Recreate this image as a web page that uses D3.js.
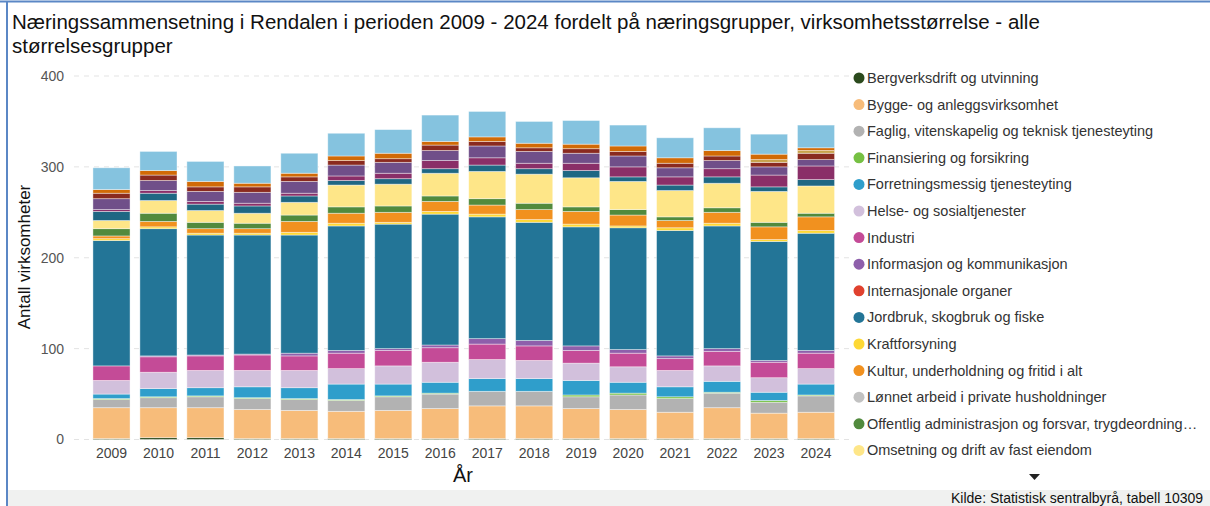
<!DOCTYPE html>
<html>
<head>
<meta charset="utf-8">
<script src="https://cdn.jsdelivr.net/npm/d3@7"></script>
<style>
body { margin: 0; background: #fff; font-family: "Liberation Sans", Arial, sans-serif; }
svg { display: block; }
</style>
</head>
<body>
<div></div>
<script>
//Dimensiones
var w = 1210
var h = 506

//Datos (antall virksomheter per år)
var years = ['2009','2010','2011','2012','2013','2014','2015','2016','2017','2018','2019','2020','2021','2022','2023','2024']

var categories = [
    'Bergverksdrift og utvinning',
    'Bygge- og anleggsvirksomhet',
    'Faglig, vitenskapelig og teknisk tjenesteyting',
    'Finansiering og forsikring',
    'Forretningsmessig tjenesteyting',
    'Helse- og sosialtjenester',
    'Industri',
    'Informasjon og kommunikasjon',
    'Internasjonale organer',
    'Jordbruk, skogbruk og fiske',
    'Kraftforsyning',
    'Kultur, underholdning og fritid i alt',
    'Lønnet arbeid i private husholdninger',
    'Offentlig administrasjon og forsvar, trygdeordninger underlagt offentlig forvaltning',
    'Omsetning og drift av fast eiendom',
    'Overnattings- og serveringsvirksomhet',
    'Personlig tjenesteyting',
    'Transport og lagring',
    'Undervisning',
    'Uoppgitt',
    'Vannforsyning, avløp og renovasjon',
    'Varehandel, reparasjon av motorvogner'
]

var colors = ['#2b4a1d','#f7bc7a','#b2b2b2','#76c043','#2f9ecb','#d2c0dc','#c44b97','#8e5fab','#e0412e','#237597','#fdd835',
    '#f1911f','#c2c2c2','#518a3d','#fee688','#1f6783','#8a2f68','#704f89','#8a2a1f','#c8a24a','#d16a06','#85c3df']

var bergverk     = [1,2,2,1,1,1,1,1,1,1,1,1,1,1,1,1]
var bygge        = [34,33,33,32,31,30,31,33,36,36,33,32,29,34,28,29]
var faglig       = [9,11,12,12,12,12,15,16,16,16,13,16,15,16,12,18]
var finans       = [1,1,1,1,1,1,1,1,0,0,2,2,2,1,2,1]
var forretning   = [5,9,9,12,12,17,13,12,14,14,16,12,11,12,9,12]
var helse        = [15,18,19,18,19,17,20,22,21,20,19,17,18,17,16,17]
var industri     = [16,17,16,17,16,17,17,16,17,16,14,15,13,16,17,17]
var informasjon  = [0,1,1,1,3,3,2,3,6,6,5,4,3,3,2,3]
var internasjonale = [0,0,0,0,0,0,0,0,0,0,0,0,0,0,0,0]
var jordbruk     = [138,140,132,131,130,137,137,144,134,130,131,134,138,135,131,129]
var kraft        = [2,2,2,2,3,3,2,3,3,3,3,2,3,3,2,3]
var kultur       = [3,6,5,5,12,11,11,11,10,11,14,12,8,12,14,15]
var lonnet       = [0,0,0,0,0,0,0,0,0,0,0,0,0,0,0,0]
var offentlig    = [8,9,7,6,7,7,7,6,7,7,5,6,4,5,5,4]
var omsetning    = [9,14,13,11,14,24,24,25,30,32,32,31,29,27,34,30]
var overnatting  = [10,8,7,8,7,5,6,5,7,6,8,5,6,7,5,7]
var personlig    = [2,3,3,3,3,5,6,9,8,6,8,11,9,9,13,15]
var transport    = [12,11,11,12,13,12,12,11,13,13,11,12,10,9,9,7]
var undervisning = [6,6,5,6,5,5,4,6,5,4,5,5,5,5,5,7]
var uoppgitt     = [0,0,0,0,0,0,0,0,0,0,0,0,0,0,3,3]
var vannforsyning = [4,5,6,4,4,5,6,4,5,5,5,6,6,6,6,3]
var varehandel   = [24,21,22,19,22,25,26,29,28,24,26,23,22,25,22,25]

var series = [bergverk,bygge,faglig,finans,forretning,helse,industri,informasjon,internasjonale,jordbruk,kraft,
    kultur,lonnet,offentlig,omsetning,overnatting,personlig,transport,undervisning,uoppgitt,vannforsyning,varehandel]

var yTicks = [0,100,200,300,400]
var legendShown = 15

//tabla para d3.stack
var table = years.map(function(y, i) {
    var row = {year: y}
    categories.forEach(function(c, j) { row[c] = series[j][i] })
    return row
})

var svg = d3.select('div')
    .append('svg')
    .attr('width', w)
    .attr('height', h)

//marco azul
svg.append('line').attr('x1', 0).attr('x2', w).attr('y1', 1.5).attr('y2', 1.5)
    .attr('stroke', '#5b87c5').attr('stroke-width', 2)
svg.append('line').attr('x1', 7).attr('x2', 7).attr('y1', 1).attr('y2', h)
    .attr('stroke', '#5b87c5').attr('stroke-width', 2)

//titulo
var title = svg.append('text')
    .attr('x', 12)
    .attr('y', 29)
    .style('font-size', '20.5px')
    .style('fill', '#111')
title.append('tspan').attr('x', 12).attr('dy', 0)
    .text('Næringssammensetning i Rendalen i perioden 2009 - 2024 fordelt på næringsgrupper, virksomhetsstørrelse - alle')
title.append('tspan').attr('x', 12).attr('dy', 24)
    .text('størrelsesgrupper')

//escalas
var x = d3.scaleBand()
    .domain(years)
    .range([88, 839.5])
    .paddingInner(0.21)
    .paddingOuter(0.105)

var y = d3.scaleLinear()
    .domain([0, 400])
    .range([439.5, 76])

//rejilla
svg.append('g')
    .selectAll('line')
    .data(yTicks)
    .enter()
    .append('line')
    .attr('x1', 74)
    .attr('x2', 853)
    .attr('y1', (d) => y(d))
    .attr('y2', (d) => y(d))
    .attr('stroke', '#e3e3e3')
    .attr('stroke-width', 1)
    .attr('stroke-dasharray', '5,5')

//eje y
var yAxis = svg.append('g')
    .attr('transform', 'translate(64,0)')
    .call(d3.axisLeft(y).tickValues(yTicks).tickSize(0).tickPadding(0))
yAxis.select('.domain').remove()
yAxis.selectAll('text')
    .style('font-family', '"Liberation Sans", Arial, sans-serif')
    .style('font-size', '14px')
    .style('fill', '#555')

svg.append('text')
    .attr('transform', 'translate(30,257) rotate(-90)')
    .attr('text-anchor', 'middle')
    .style('font-size', '17px')
    .style('fill', '#111')
    .text('Antall virksomheter')

//eje x
var xAxis = svg.append('g')
    .attr('transform', 'translate(0,440)')
    .call(d3.axisBottom(x).tickSize(0).tickPadding(8))
xAxis.select('.domain').remove()
xAxis.selectAll('text')
    .style('font-family', '"Liberation Sans", Arial, sans-serif')
    .style('font-size', '14px')
    .style('fill', '#444')

svg.append('text')
    .attr('x', 463)
    .attr('y', 482)
    .attr('text-anchor', 'middle')
    .style('font-size', '20px')
    .style('fill', '#111')
    .text('År')

//barras apiladas
var stack = d3.stack().keys(categories)(table)

svg.append('g')
    .selectAll('g')
    .data(stack)
    .enter()
    .append('g')
    .attr('fill', (d, i) => colors[i])
    .selectAll('rect')
    .data((d) => d)
    .enter()
    .append('rect')
    .attr('x', (d) => x(d.data.year))
    .attr('width', x.bandwidth())
    .attr('y', (d) => y(d[1]))
    .attr('height', (d) => y(d[0]) - y(d[1]))
    .attr('stroke', '#ffffff')
    .attr('stroke-opacity', 0.5)
    .attr('stroke-width', 0.8)

//leyenda (solo las primeras visibles)
var legend = svg.append('g')
    .selectAll('g')
    .data(categories.slice(0, legendShown))
    .enter()
    .append('g')
    .attr('transform', (d, i) => 'translate(859,' + (78 + i * 26.6) + ')')

legend.append('circle')
    .attr('r', 5.5)
    .attr('fill', (d, i) => colors[i])

legend.append('text')
    .attr('x', 8)
    .attr('dy', '0.35em')
    .style('font-size', '14.5px')
    .style('fill', '#333')
    .text((d) => d.length > 48 ? 'Offentlig administrasjon og forsvar, trygdeordning…' : d)

//flecha de desplazamiento
svg.append('path')
    .attr('d', 'M1029,474 L1040,474 L1034.5,480 Z')
    .attr('fill', '#222')

//pie de pagina
svg.append('rect')
    .attr('x', 8)
    .attr('y', 490)
    .attr('width', w - 8)
    .attr('height', 16)
    .attr('fill', '#f0f1f0')

svg.append('text')
    .attr('x', 951)
    .attr('y', 503)
    .style('font-size', '14px')
    .style('fill', '#111')
    .text('Kilde: Statistisk sentralbyrå, tabell 10309')
</script>
</body>
</html>
